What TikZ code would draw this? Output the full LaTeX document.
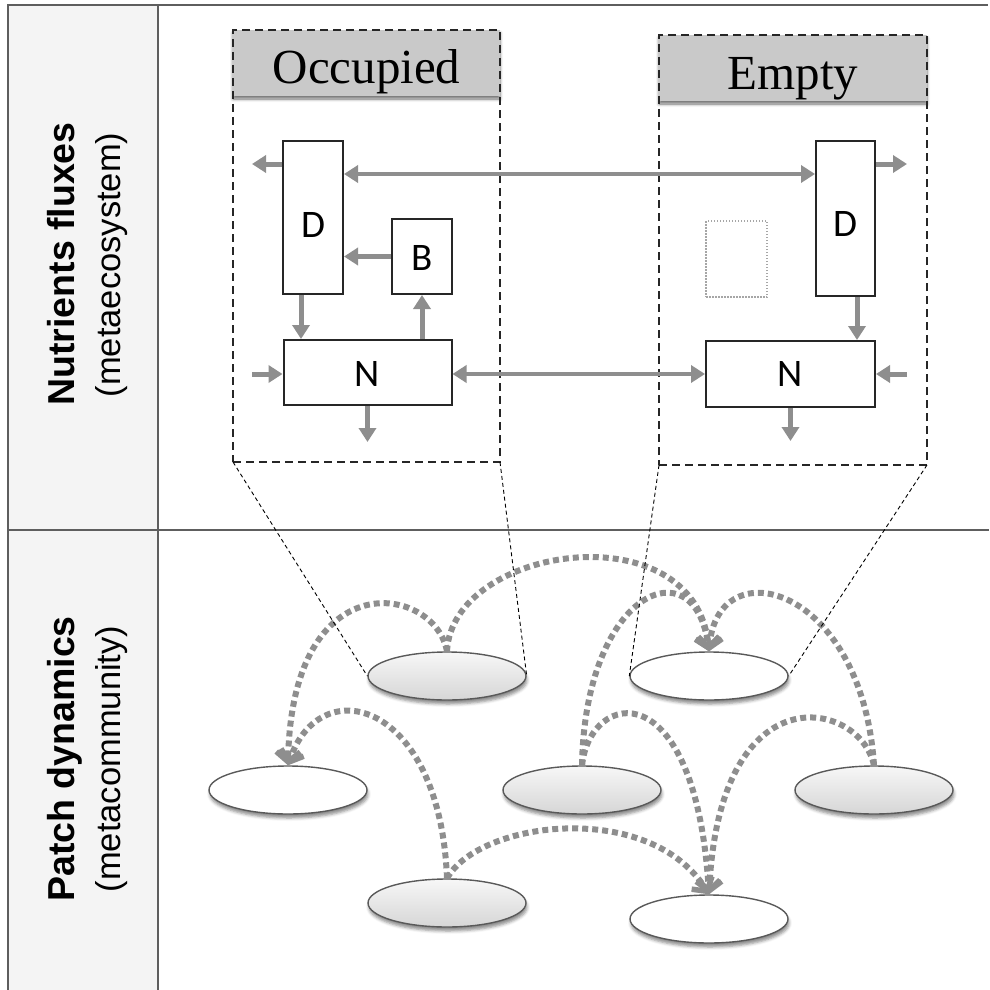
\documentclass[tikz,border=0pt]{standalone}
\usepackage{fontspec}
\setmainfont{Liberation Serif}
\newfontfamily\labelsans{Liberation Sans}
\newfontfamily\boxsans{Carlito}
\usetikzlibrary{arrows.meta,shapes.geometric,shadows.blur}

\definecolor{fluxgray}{HTML}{8E8E8E}
\definecolor{headgray}{HTML}{C9C9C9}
\definecolor{rulegray}{HTML}{5E5E5E}
\definecolor{sidegray}{HTML}{F4F4F4}
\definecolor{patchtop}{HTML}{F7F7F7}
\definecolor{patchbottom}{HTML}{D6D6D6}

\tikzset{
  tableline/.style={draw=rulegray, line width=1.4pt},
  header/.style={rectangle, fill=headgray, inner sep=0pt, outer sep=0pt,
    blur shadow={shadow xshift=0pt, shadow yshift=-3pt, shadow blur radius=3pt, shadow opacity=55}},
  headtext/.style={font=\fontsize{49}{52}\selectfont, inner sep=0pt},
  patchframe/.style={rectangle, draw=black!85, line width=2pt, dash pattern=on 8pt off 5pt,
    inner sep=0pt, outer sep=0pt},
  pool/.style={rectangle, draw=black!85, line width=2pt, fill=white, inner sep=0pt},
  poollabel/.style={font=\boxsans\fontsize{39}{41}\selectfont, inner sep=0pt},
  ghostpool/.style={rectangle, draw=black!35, line width=1.5pt, dash pattern=on 1.5pt off 1.5pt, inner sep=0pt},
  fluxtip/.tip={Triangle[length=14pt,width=17pt]},
  flux/.style={draw=fluxgray, line width=5pt, -fluxtip},
  twoway/.style={draw=fluxgray, line width=4.5pt, fluxtip-fluxtip},
  patch/.style={ellipse, draw=black!65, line width=1.4pt, minimum width=158pt, minimum height=48pt,
    inner sep=0pt, blur shadow={shadow xshift=1pt, shadow yshift=-4pt, shadow blur radius=3pt, shadow opacity=45}},
  occupiedpatch/.style={patch, top color=patchtop, bottom color=patchbottom},
  emptypatch/.style={patch, fill=white},
  dispersal/.style={draw=fluxgray, line width=6pt, dash pattern=on 6pt off 4pt,
    -{Straight Barb[length=10pt,width=24pt,line width=5.5pt]}},
  zoomline/.style={draw=black, line width=0.9pt, dash pattern=on 4pt off 3pt},
  rowtitle/.style={rotate=90, anchor=base, inner sep=0pt, font=\labelsans\bfseries\fontsize{37.5}{40}\selectfont},
  rowsub/.style={rotate=90, anchor=base, inner sep=0pt, font=\labelsans\fontsize{34.5}{38}\selectfont},
}

\begin{document}
\begin{tikzpicture}[x=1pt,y=-1pt]
\useasboundingbox (0,0) rectangle (989,990);

% table grid and side column
\fill[sidegray] (8,5) rectangle (158,990);
\draw[tableline] (8,990) -- (8,5) -- (988,5);
\draw[tableline] (158,5) -- (158,990);
\draw[tableline] (8,530) -- (989,530);

\node[rowtitle] (rowA) at (74,264) {Nutrients fluxes};
\node[rowsub] (rowAsub) at (120,265) {(metaecosystem)};
\node[rowtitle] (rowB) at (74,759) {Patch dynamics};
\node[rowsub] (rowBsub) at (120,759) {(metacommunity)};

% patch headers
\node[header, minimum width=267pt, minimum height=66pt] (occhead) at (366.5,63) {};
\node[headtext, anchor=base] (occtitle) at (366.5,83) {Occupied};
\node[header, minimum width=268pt, minimum height=66pt] (emphead) at (793,68) {};
\node[headtext, anchor=base] (emptitle) at (793,89) {Empty};

% dashed patch frames
\node[patchframe, minimum width=267pt, minimum height=432pt] (occ) at (366.5,246) {};
\node[patchframe, minimum width=268pt, minimum height=430pt] (emp) at (793,250) {};

% compartments of the occupied patch
\node[pool, minimum width=60pt, minimum height=153pt] (Docc) at (313,217.5) {};
\node[poollabel] (DoccL) at (313,225) {D};
\node[pool, minimum width=60pt, minimum height=75pt] (Bocc) at (422,256.5) {};
\node[poollabel] (BoccL) at (422,257.5) {B};
\node[pool, minimum width=168pt, minimum height=65pt] (Nocc) at (367.5,372.5) {};
\node[poollabel] (NoccL) at (367.5,374) {N};

% compartments of the empty patch
\node[ghostpool, minimum width=61pt, minimum height=76pt] (Bemp) at (736.5,259) {};
\node[pool, minimum width=59pt, minimum height=155pt] (Demp) at (845.5,218.5) {};
\node[poollabel] (DempL) at (845.5,224) {D};
\node[pool, minimum width=169pt, minimum height=66pt] (Nemp) at (790.5,374) {};
\node[poollabel] (NempL) at (790.5,374) {N};

% free ends of the fluxes
\coordinate (outDocc) at (252,164);
\coordinate (dlink) at (0,174);
\coordinate (dnocc) at (301,0);
\coordinate (inNocc) at (252,374);
\coordinate (lossNocc) at (367.5,442);
\coordinate (outDemp) at (907,164);
\coordinate (dnemp) at (857,0);
\coordinate (inNemp) at (907,374);
\coordinate (lossNemp) at (790.5,441);

% nutrient fluxes
\draw[flux] (Docc.west |- outDocc) -- (outDocc);
\draw[twoway] (Docc.east |- dlink) -- (Demp.west |- dlink);
\draw[flux] (Bocc.west) -- (Docc.east |- Bocc.west);
\draw[flux] (Docc.south -| dnocc) -- (Nocc.north -| dnocc);
\draw[flux] (Nocc.north -| Bocc.south) -- (Bocc.south);
\draw[flux] (inNocc) -- (Nocc.west |- inNocc);
\draw[flux] (Nocc.south) -- (lossNocc);
\draw[twoway] (Nocc.east |- Nemp.west) -- (Nemp.west);
\draw[flux] (Demp.east |- outDemp) -- (outDemp);
\draw[flux] (Demp.south -| dnemp) -- (Nemp.north -| dnemp);
\draw[flux] (inNemp) -- (Nemp.east |- inNemp);
\draw[flux] (Nemp.south) -- (lossNemp);

% patches of the metacommunity
\node[occupiedpatch] (E1) at (447,676) {};
\node[emptypatch] (E2) at (709,676) {};
\node[emptypatch] (E3) at (288,790) {};
\node[occupiedpatch] (E4) at (582,790) {};
\node[occupiedpatch] (E5) at (874,790) {};
\node[occupiedpatch] (E6) at (447,903) {};
\node[emptypatch] (E7) at (709,919) {};

% colonisation events
\draw[dispersal] (E1.north) .. controls (435,585) and (292,560) .. (E3.north);
\draw[dispersal] (E6.north) .. controls (440,700) and (320,670) .. (E3.north);
\draw[dispersal] (E1.north) .. controls (452,545) and (695,510) .. (E2.north);
\draw[dispersal] (E4.north) .. controls (585,590) and (695,545) .. (E2.north);
\draw[dispersal] (E5.north) .. controls (862,585) and (718,548) .. (E2.north);
\draw[dispersal] (E4.north) .. controls (590,690) and (695,670) .. (E7.north);
\draw[dispersal] (E5.north) .. controls (860,700) and (720,670) .. (E7.north);
\draw[dispersal] (E6.north) .. controls (480,820) and (650,800) .. (E7.north);

% zoom lines from patch frames to patches
\draw[zoomline] (occ.south west) -- (E1.west);
\draw[zoomline] (occ.south east) -- (E1.east);
\draw[zoomline] (emp.south west) -- (E2.west);
\draw[zoomline] (emp.south east) -- (E2.east);
\end{tikzpicture}
\end{document}
